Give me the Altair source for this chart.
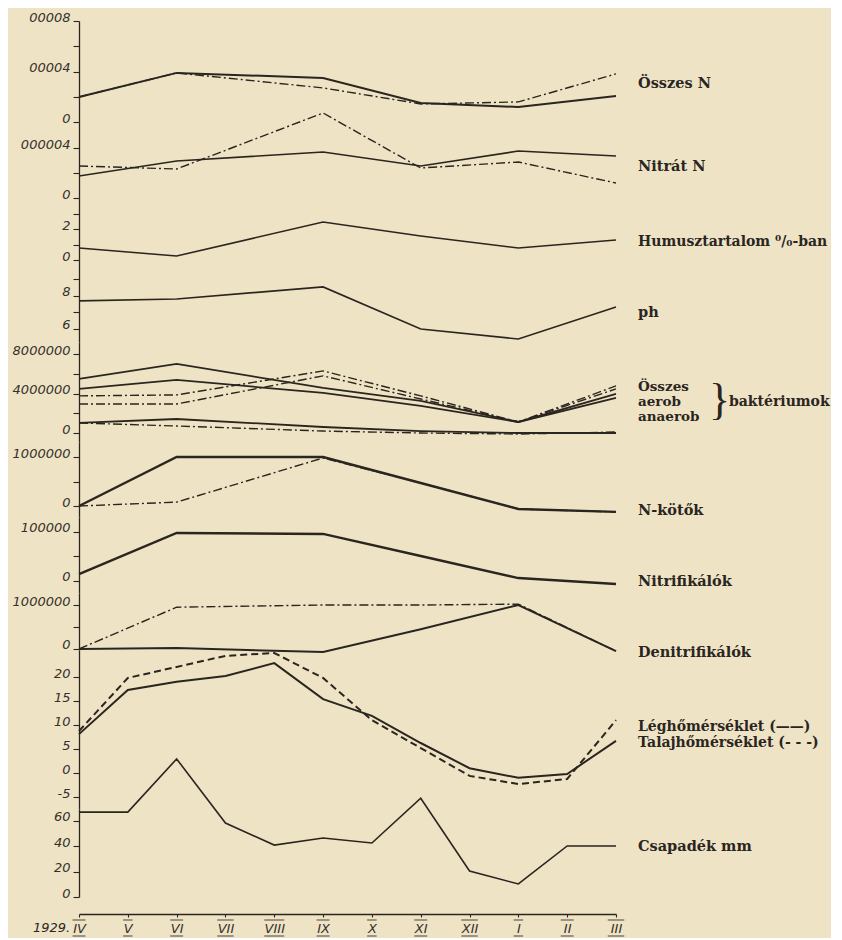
import altair as alt
import pandas as pd

# ---------------- data ----------------
MONTHS = ["IV", "V", "VI", "VII", "VIII", "IX", "X", "XI", "XII", "I", "II", "III"]
SAMPLE_MONTHS = [0, 2, 5, 7, 9, 11]          # IV, VI, IX, XI, I, III
ALL_MONTHS = list(range(12))

OSSZES_N_A = [1.98, 3.89, 3.49, 1.51, 1.19, 2.06]
OSSZES_N_B = [1.98, 3.89, 2.70, 1.43, 1.59, 3.81]
NITRAT_N_A = [1.76, 2.96, 3.68, 2.56, 3.76, 3.36]
NITRAT_N_B = [2.56, 2.32, 6.80, 2.40, 2.88, 1.20]
HUMUSZ = [0.77, 0.26, 2.45, 1.55, 0.77, 1.29]
PH = [7.70, 7.82, 8.55, 6.00, 5.39, 7.33]
# bacteria, millions
BAKT_1 = [5.48, 7.00, 4.57, 3.25, 1.12, 3.96]
BAKT_2 = [4.47, 5.38, 4.06, 2.74, 1.12, 3.55]
BAKT_3 = [3.76, 3.86, 6.29, 3.76, 1.12, 4.77]
BAKT_4 = [2.94, 2.94, 5.79, 3.45, 1.12, 4.47]
ANAEROB_A = [1.02, 1.42, 0.61, 0.20, 0.00, 0.00]
ANAEROB_B = [1.02, 0.71, 0.20, 0.00, -0.10, 0.10]
# N-kötők, millions
N_KOTOK_A = [0.00, 1.00, 1.00, 0.47, -0.06, -0.12]
N_KOTOK_B = [0.00, 0.08, 0.98, 0.47, -0.06, -0.12]
# Nitrifikálók, x100000
NITRIFIKALOK = [0.14, 0.98, 0.96, 0.51, 0.06, -0.06]
# Denitrifikálók, millions
DENITRI_A = [0.00, 0.02, -0.07, 0.45, 1.00, -0.05]
DENITRI_B = [0.00, 0.95, 1.00, 1.00, 1.02, -0.05]
LEG_HOM = [8.1, 17.3, 19.0, 20.2, 22.9, 15.4, 11.9, 6.25, 1.0, -1.0, -0.2, 6.7]
TALAJ_HOM = [8.75, 19.8, 22.1, 24.4, 25.0, 19.8, 11.0, 5.2, -0.6, -2.3, -1.25, 11.0]
CSAPADEK = [67, 67, 109, 58.4, 41, 46.6, 42.6, 78, 20.5, 10.3, 40.3, 40.3]

# ---------------- style ----------------
BG = "#efe3c6"
INK = "#2a261f"
DASHDOT = [9, 3, 2, 3]
DASHED = [7, 4]
W = 537
LABEL_X = 559
SERIF = "DejaVu Serif"
FS = 14.5

xscale = alt.Scale(domain=[0, 11], nice=False, zero=False)
xaxis_bottom = alt.Axis(
    values=ALL_MONTHS,
    labelExpr="[" + ",".join(f"'{m}'" for m in MONTHS) + "][datum.value]",
    offset=17, tickSize=3, labelPadding=5, labelFlush=False, title=None,
    domainWidth=1.3,
)


def yaxis(major, labels, minor):
    vals = list(major) + list(minor)
    expr = " : ".join(f"datum.value == {v} ? '{l}'" for v, l in zip(major, labels)) + " : ''"
    return alt.Axis(values=vals, labelExpr=expr, title=None, minExtent=70, maxExtent=70,
                    labelBaseline="alphabetic", labelOverlap=False, tickSize=6,
                    labelPadding=3, domainWidth=1.3)


def line(xs, ys, dom, ax, dash=None, width=1.6, bottom=False):
    df = pd.DataFrame({"m": xs, "v": ys})
    kw = dict(color=INK, strokeWidth=width, clip=False, strokeJoin="miter")
    if dash:
        kw["strokeDash"] = dash
    return alt.Chart(df).mark_line(**kw).encode(
        x=alt.X("m:Q", scale=xscale, axis=xaxis_bottom if bottom else None),
        y=alt.Y("v:Q", scale=alt.Scale(domain=dom, nice=False, zero=False), axis=ax),
    )


def text(label, x, y, size=FS, font=SERIF, weight="bold", style="normal", align="left"):
    return alt.Chart(pd.DataFrame({"t": [label]})).mark_text(
        font=font, fontSize=size, fontWeight=weight, fontStyle=style, color=INK,
        align=align, baseline="middle",
    ).encode(text="t:N", x=alt.value(x), y=alt.value(y))


panels = []

# 1 Összes N
dom = [0, 8]
ax = yaxis([0, 4, 8], ["0", "00004", "00008"], [2, 6])
panels.append(alt.layer(
    line(SAMPLE_MONTHS, OSSZES_N_B, dom, ax, DASHDOT, 1.4),
    line(SAMPLE_MONTHS, OSSZES_N_A, dom, ax, None, 2.0),
    text("Összes N", LABEL_X, 63),
).properties(width=W, height=101))

# 2 Nitrát N
dom = [0, 6.08]
ax = yaxis([0, 4], ["0", "000004"], [2])
panels.append(alt.layer(
    line(SAMPLE_MONTHS, NITRAT_N_B, dom, ax, DASHDOT, 1.4),
    line(SAMPLE_MONTHS, NITRAT_N_A, dom, ax, None, 1.7),
    text("Nitrát N", LABEL_X, 45),
).properties(width=W, height=76))

# 3 Humusz
dom = [0, 4.0]
ax = yaxis([0, 2], ["0", "2"], [1, 3])
panels.append(alt.layer(
    line(SAMPLE_MONTHS, HUMUSZ, dom, ax, None, 1.6),
    text("Humusztartalom ⁰/₀-ban", LABEL_X, 44, size=14),
).properties(width=W, height=62))

# 4 pH
dom = [5.21, 10.18]
ax = yaxis([6, 8], ["6", "8"], [7, 9])
panels.append(alt.layer(
    line(SAMPLE_MONTHS, PH, dom, ax, None, 1.6),
    text("ph", LABEL_X, 53),
).properties(width=W, height=82))

# 5 Baktériumok
dom = [-0.91, 9.22]
ax = yaxis([0, 4, 8], ["0", "4000000", "8000000"], [2, 6])
panels.append(alt.layer(
    line(SAMPLE_MONTHS, BAKT_3, dom, ax, DASHDOT, 1.4),
    line(SAMPLE_MONTHS, BAKT_4, dom, ax, DASHDOT, 1.4),
    line(SAMPLE_MONTHS, BAKT_1, dom, ax, None, 1.8),
    line(SAMPLE_MONTHS, BAKT_2, dom, ax, None, 1.8),
    line(SAMPLE_MONTHS, ANAEROB_B, dom, ax, DASHDOT, 1.4),
    line(SAMPLE_MONTHS, ANAEROB_A, dom, ax, None, 1.8),
    text("Összes", LABEL_X, 45, size=13.5),
    text("aerob", LABEL_X, 60, size=13.5),
    text("anaerob", LABEL_X, 75, size=13.5),
    text("}", 630, 59, size=44, font="Liberation Serif", weight="normal"),
    text("baktériumok", 650, 60, size=14),
).properties(width=W, height=100))

# 6 N-kötők
dom = [-0.224, 1.306]
ax = yaxis([0, 1], ["0", "1000000"], [0.5])
panels.append(alt.layer(
    line(SAMPLE_MONTHS, N_KOTOK_B, dom, ax, DASHDOT, 1.4),
    line(SAMPLE_MONTHS, N_KOTOK_A, dom, ax, None, 2.4),
    text("N-kötők", LABEL_X, 69),
).properties(width=W, height=75))

# 7 Nitrifikálók
dom = [-0.245, 1.306]
ax = yaxis([0, 1], ["0", "100000"], [0.5])
panels.append(alt.layer(
    line(SAMPLE_MONTHS, NITRIFIKALOK, dom, ax, None, 2.4),
    text("Nitrifikálók", LABEL_X, 65),
).properties(width=W, height=76))

# 8 Denitrifikálók
dom = [-0.023, 1.273]
ax = yaxis([0, 1], ["0", "1000000"], [0.5])
panels.append(alt.layer(
    line(SAMPLE_MONTHS, DENITRI_B, dom, ax, DASHDOT, 1.4),
    line(SAMPLE_MONTHS, DENITRI_A, dom, ax, None, 2.0),
    text("Denitrifikálók", LABEL_X, 60),
).properties(width=W, height=57))

# 9 Hőmérséklet
dom = [-7.5, 25.625]
ax = yaxis([-5, 0, 5, 10, 15, 20], ["-5", "0", "5", "10", "15", "20"], [])
panels.append(alt.layer(
    line(ALL_MONTHS, TALAJ_HOM, dom, ax, DASHED, 2.0),
    line(ALL_MONTHS, LEG_HOM, dom, ax, None, 2.0),
    text("Léghőmérséklet (——)", LABEL_X, 77, size=14),
    text("Talajhőmérséklet (- - -)", LABEL_X, 93, size=14),
).properties(width=W, height=159))

# 10 Csapadék
dom = [0, 69.47]
ax = yaxis([0, 20, 40, 60], ["0", "20", "40", "60"], [])
roman = pd.DataFrame({"m": ALL_MONTHS, "r": MONTHS})
bars = alt.Chart(roman).transform_calculate(w="3.5*length(datum.r)+6")
over = bars.mark_tick(orient="horizontal", thickness=1.2, color=INK).encode(
    x=alt.X("m:Q", scale=xscale, axis=xaxis_bottom),
    y=alt.value(111), size=alt.Size("w:Q", scale=None))
under = bars.mark_tick(orient="horizontal", thickness=1.2, color=INK).encode(
    x=alt.X("m:Q", scale=xscale, axis=xaxis_bottom),
    y=alt.value(127), size=alt.Size("w:Q", scale=None))
panels.append(alt.layer(
    line(ALL_MONTHS, CSAPADEK, dom, ax, None, 1.6, bottom=True),
    over, under,
    text("Csapadék mm", LABEL_X, 38),
    text("1929.", -46, 119, size=13, font="DejaVu Sans", weight="normal", style="italic"),
).properties(width=W, height=88))

chart = alt.vconcat(*panels, spacing=0, bounds="flush").properties(
    background=BG,
    padding={"left": 0, "top": 2, "right": 0, "bottom": 0},
).configure_view(stroke="transparent").configure_axis(
    grid=False,
    domainColor=INK,
    tickColor=INK,
    tickWidth=1.1,
    labelColor="#35302a",
    labelFont="DejaVu Sans",
    labelFontStyle="italic",
    labelFontSize=13,
)

chart.save("out.html", embed_options={"renderer": "svg", "actions": False})
